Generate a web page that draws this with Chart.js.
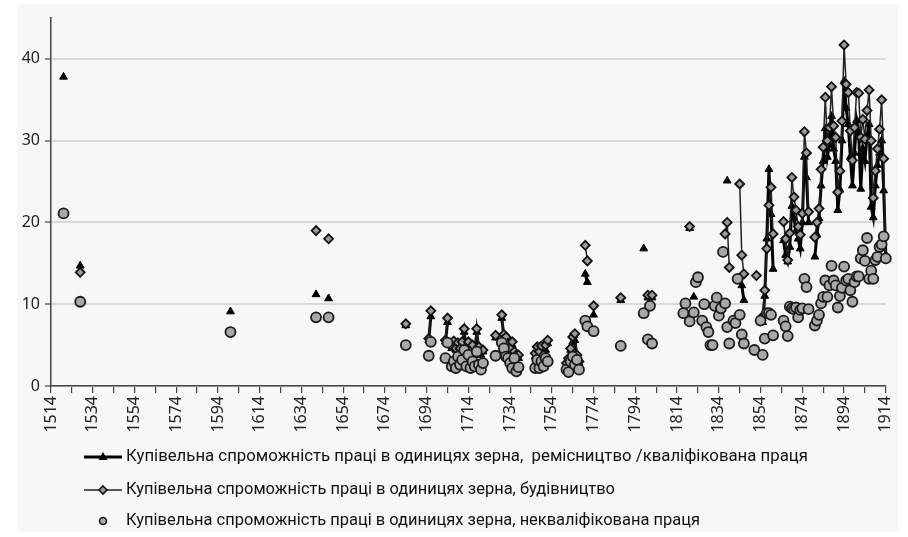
<!DOCTYPE html>
<html><head><meta charset="utf-8">
<script src="https://cdn.jsdelivr.net/npm/chart.js@4"></script>
<style>html,body{margin:0;padding:0;background:#fff}</style>
</head><body>
<canvas id="c" width="908" height="537"></canvas>
<script>
// ---- data ----
const years = [1520,1528,1600,1641,1647,1684,
 1695,1696,1703,1704,
 1706,1707,1708,1709,1710,1711,1712,1713,1714,1715,1716,1717,1718,1719,1720,1721,
 1727,1730,1731,1732,1733,1734,1735,1736,1737,1738,
 1746,1747,1748,1749,1750,1751,1752,
 1761,1762,1763,1764,1765,1766,1767,
 1770,1771,1774,1787,1798,1800,1801,1802,
 1817,1818,1820,1822,1823,1824,1826,1827,1828,1829,1830,1831,1832,1833,1834,1835,1836,1837,1838,1839,
 1841,1842,1843,1844,1845,1846,1851,1852,1854,1855,1856,1857,1858,1859,1860,
 1865,1866,1867,1868,1869,1870,1871,1872,1873,1874,1875,1876,1877,
 1880,1881,1882,1883,1884,1885,1886,1887,1888,1889,1890,1891,1892,1893,1894,1895,1896,1897,
 1898,1899,1900,1901,1902,1903,1904,1905,1906,1907,1908,1909,1910,1911,1912,1913,1914];
const skilled = [37.8,14.7,9.1,11.2,10.7,7.4,
 5.6,8.5,5.4,7.8,
 4.6,5.2,4.4,4.8,4.2,5.0,6.6,4.4,5.0,4.0,4.6,3.8,6.6,4.4,3.8,4.2,
 5.9,8.3,6.0,5.6,5.0,4.4,5.0,4.0,3.6,3.4,
 3.6,4.4,3.8,4.6,3.6,4.4,5.2,
 2.6,3.0,4.4,5.4,5.6,3.6,2.8,
 13.7,12.7,8.7,10.5,16.8,10.8,null,10.8,
 null,null,19.3,10.9,null,null,null,null,null,null,null,null,null,null,null,null,null,null,25.1,null,
 null,null,null,null,12.3,10.5,null,null,null,7.8,11.0,18.0,26.5,21.0,14.3,
 17.8,16.0,15.2,17.0,22.0,20.5,19.0,18.0,16.8,20.0,28.0,25.5,20.0,
 15.8,18.5,20.5,24.5,27.5,31.5,28.0,29.5,33.0,29.0,27.5,21.5,24.0,30.0,37.3,34.0,32.0,28.0,
 24.5,28.5,32.5,31.0,24.1,29.0,27.5,30.5,32.0,21.9,20.6,24.5,27.0,28.5,30.0,23.9,16.0];
const building = [null,13.9,null,19.0,18.0,7.6,
 5.8,9.2,5.6,8.3,
 4.9,5.5,4.6,5.3,4.6,5.4,7.0,4.8,5.4,4.4,5.0,4.2,7.0,4.8,4.2,4.4,
 6.2,8.7,6.3,6.0,5.2,4.6,5.4,4.2,3.8,3.8,
 4.0,4.8,4.2,4.9,3.8,5.0,5.6,
 2.8,3.4,4.6,6.0,6.4,3.8,3.0,
 17.2,15.3,9.8,10.8,null,11.1,10.0,11.1,
 null,null,19.5,null,null,null,null,null,null,null,null,null,null,null,null,null,null,18.6,20.0,14.5,
 null,null,null,24.7,16.0,13.7,null,13.5,null,8.5,11.7,16.8,22.1,24.3,18.6,
 20.1,18.0,15.4,18.7,25.5,23.1,21.5,19.5,18.5,21.1,31.1,28.5,21.3,
 18.2,20.0,21.7,26.5,29.2,35.3,30.0,31.6,36.6,31.8,30.4,23.7,26.3,32.4,41.7,36.9,35.9,31.2,
 27.6,31.6,35.9,35.8,30.4,32.6,30.2,33.7,36.2,30.0,23.0,26.3,29.0,31.4,35.0,27.8,15.8];
const unskilled = [21.1,10.3,6.6,8.4,8.4,5.0,
 3.7,5.4,3.4,5.3,
 2.4,3.0,2.2,3.6,2.6,3.2,4.4,2.4,3.8,2.2,3.0,2.4,4.2,2.6,2.0,2.8,
 3.7,5.3,4.6,3.6,3.4,2.8,2.2,3.4,1.8,2.3,
 2.2,3.2,2.2,3.0,2.4,3.4,3.0,
 2.0,1.7,3.0,3.6,2.6,3.2,2.0,
 8.0,7.3,6.7,4.9,8.9,5.7,9.8,5.2,
 8.9,10.1,7.9,9.0,12.7,13.3,8.0,10.0,7.2,6.6,5.0,5.0,9.8,10.8,8.6,9.5,16.4,10.1,7.2,5.2,
 8.0,7.7,13.1,8.7,6.3,5.2,4.4,null,8.0,3.8,5.8,8.9,8.9,8.7,6.2,
 8.0,7.3,6.1,9.7,9.5,9.4,9.6,8.4,9.3,9.5,13.1,12.1,9.4,
 7.4,8.0,8.7,10.1,10.9,12.9,10.9,12.3,14.7,12.9,12.3,9.6,11.0,12.0,14.6,12.9,13.1,11.7,
 10.3,12.7,13.4,13.4,15.6,16.6,15.3,18.1,13.1,14.1,13.1,15.4,15.8,17.0,17.3,18.3,15.6];
const xTickLabels = [1514,1534,1554,1574,1594,1614,1634,1654,1674,1694,1714,1734,1754,1774,1794,1814,1834,1854,1874,1894,1914];
const yTickValues = [0,10,20,30,40];
const seriesNames = [
 'Купівельна спроможність праці в одиницях зерна,  ремісництво /кваліфікована праця',
 'Купівельна спроможність праці в одиницях зерна, будівництво',
 'Купівельна спроможність праці в одиницях зерна, некваліфікована праця'
];

const toPts = arr => years.map((y,i)=>({x:y, y:arr[i]}));
const gapSeg = { borderColor: ctx => (ctx.p1.parsed.x - ctx.p0.parsed.x > 1.01 ? 'rgba(0,0,0,0)' : undefined) };

const bgPlugin = {
  id:'bg',
  beforeDraw(chart){
    const c = chart.ctx;
    c.save();
    c.fillStyle = '#ffffff'; c.fillRect(0,0,chart.width,chart.height);
    c.fillStyle = '#f7f7f7'; c.fillRect(17,4,881,528);
    c.restore();
  }
};

const legendPlugin = {
  id:'customLegend',
  afterDraw(chart){
    const c = chart.ctx;
    const rows = [457, 490, 521];
    const targets = [682, 489, 574];
    const x0 = 84, x1 = 122, xm = 103, tx = 126;
    c.save();
    c.strokeStyle = '#000'; c.lineWidth = 3;
    c.beginPath(); c.moveTo(x0, rows[0]); c.lineTo(x1, rows[0]); c.stroke();
    c.fillStyle = '#000';
    c.beginPath(); c.moveTo(xm, rows[0]-5); c.lineTo(xm+4.5, rows[0]+3); c.lineTo(xm-4.5, rows[0]+3); c.closePath(); c.fill();
    c.strokeStyle = '#222'; c.lineWidth = 1.5;
    c.beginPath(); c.moveTo(x0, rows[1]); c.lineTo(x1, rows[1]); c.stroke();
    c.fillStyle = '#9a9a9a'; c.strokeStyle = '#111'; c.lineWidth = 1.6;
    c.beginPath(); c.moveTo(xm, rows[1]-4); c.lineTo(xm+4, rows[1]); c.lineTo(xm, rows[1]+4); c.lineTo(xm-4, rows[1]); c.closePath(); c.fill(); c.stroke();
    c.fillStyle = '#a8a8a8'; c.strokeStyle = '#111'; c.lineWidth = 1.5;
    c.beginPath(); c.arc(xm, rows[2], 3.5, 0, Math.PI*2); c.fill(); c.stroke();
    c.font = '17px Roboto';
    c.fillStyle = '#111';
    c.textBaseline = 'middle';
    seriesNames.forEach((t,i)=>{
      const w = c.measureText(t).width;
      const s = targets[i]/w;
      c.save();
      c.translate(tx, rows[i]);
      c.scale(s, 1);
      c.fillText(t, 0, 0);
      c.restore();
    });
    c.restore();
  }
};

new Chart(document.getElementById('c'), {
  type:'line',
  data:{
    datasets:[
      { label: seriesNames[0], data: toPts(skilled), order: 3, clip: false,
        borderColor:'#000', borderWidth:3, pointStyle:'triangle', pointRadius:4.5,
        pointBackgroundColor:'#000', pointBorderColor:'#000', pointBorderWidth:1,
        spanGaps:false, segment: gapSeg, tension:0 },
      { label: seriesNames[1], data: toPts(building), order: 2, clip: false,
        borderColor:'#222', borderWidth:1.5, pointStyle:'rectRot', pointRadius:4.5,
        pointBackgroundColor:'#9a9a9a', pointBorderColor:'#111', pointBorderWidth:1.8,
        spanGaps:false, segment: gapSeg, tension:0 },
      { label: seriesNames[2], data: toPts(unskilled), order: 1, showLine:false, clip: false,
        pointStyle:'circle', pointRadius:5, pointBackgroundColor:'#a8a8a8',
        pointBorderColor:'#1a1a1a', pointBorderWidth:1.8, borderColor:'#1a1a1a' }
    ]
  },
  options:{
    responsive:false, animation:false, devicePixelRatio:1,
    layout:{ padding:{ left:0, top:18, right:21, bottom:0 } },
    plugins:{ legend:{display:false}, tooltip:{enabled:false} },
    scales:{
      x:{ type:'linear', min:1514, max:1914,
        afterBuildTicks: ax => { const t=[]; for(let v=1514; v<=1914; v+=10) t.push({value:v}); ax.ticks=t; },
        afterFit: s => { s.height = 537 - 386; },
        ticks:{ autoSkip:false, maxRotation:90, minRotation:90, padding:3, color:'#222',
          font:{ family:'Noto Sans', size:16 },
          callback: v => (xTickLabels.includes(v) ? String(v) : '') },
        grid:{ drawOnChartArea:false, drawTicks:true, tickLength:7, tickColor:'#444', lineWidth:1.2 },
        border:{ color:'#444', width:1.5 }
      },
      y:{ min:0, max:45,
        afterBuildTicks: ax => { ax.ticks = yTickValues.map(v=>({value:v})); },
        afterFit: s => { s.width = 51; },
        ticks:{ padding:5, color:'#222', font:{ family:'Noto Sans', size:16 } },
        grid:{ color:'#d9d9d9', lineWidth:2, tickLength:6, tickColor:'#444', tickWidth:1.2 },
        border:{ color:'#444', width:1.5 }
      }
    }
  },
  plugins:[bgPlugin, legendPlugin]
});
</script>
</body></html>
